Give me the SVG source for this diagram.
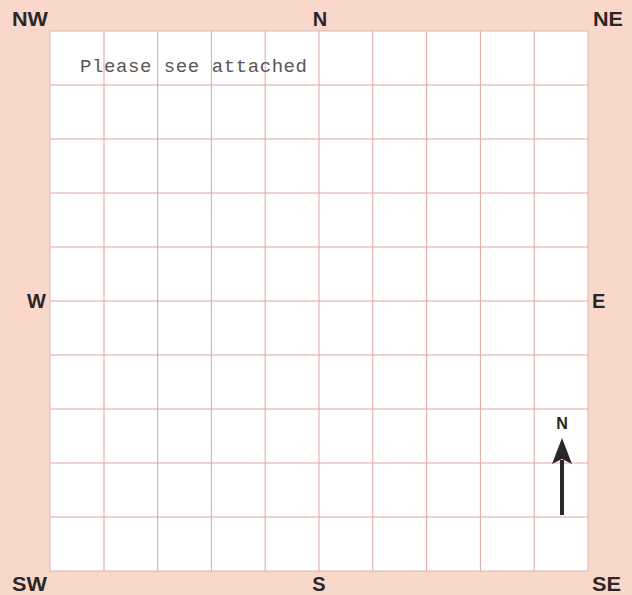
<svg xmlns="http://www.w3.org/2000/svg" width="632" height="595" viewBox="0 0 632 595">
<style>
.lbl{font-family:"Liberation Sans",Arial,sans-serif;font-weight:bold;font-size:20px;fill:#2b2726}
.g{stroke:#e0a6a3;stroke-width:1;fill:none}
</style>
<rect width="632" height="595" fill="#f9d8cb"/>
<g id="grid">
<rect x="50" y="31" width="538" height="540" fill="#ffffff" stroke="#d4b8b4" stroke-width="1"/>
<path class="g" d="M104 31V571M157.6 31V571M211.4 31V571M265.2 31V571M319 31V571M372.8 31V571M426.6 31V571M480.4 31V571M534.2 31V571M50 85H588M50 139H588M50 193H588M50 247H588M50 301H588M50 355H588M50 409H588M50 463H588M50 517H588"/>
</g>
<g id="labels">
<text class="lbl" x="12" y="26" textLength="36" lengthAdjust="spacingAndGlyphs">NW</text>
<text class="lbl" x="320" y="26" text-anchor="middle">N</text>
<text class="lbl" x="593" y="26" textLength="30" lengthAdjust="spacingAndGlyphs">NE</text>
<text class="lbl" x="27" y="308">W</text>
<text class="lbl" x="592" y="308">E</text>
<text class="lbl" x="12" y="591" textLength="35" lengthAdjust="spacingAndGlyphs">SW</text>
<text class="lbl" x="319" y="591" text-anchor="middle">S</text>
<text class="lbl" x="592" y="591" textLength="29" lengthAdjust="spacingAndGlyphs">SE</text>
</g>
<g id="note">
<text x="80" y="72" font-family="'Liberation Mono','Courier New',monospace" font-size="19" fill="#5a5656" textLength="227" lengthAdjust="spacing">Please see attached</text>
</g>
<g id="north-arrow">
<text x="562" y="429" text-anchor="middle" font-family="'Liberation Sans',Arial,sans-serif" font-weight="bold" font-size="16" fill="#2b2726">N</text>
<line x1="562" y1="460" x2="562" y2="515" stroke="#2b2726" stroke-width="4"/>
<polygon points="562,438 572,464 562,459 552,464" fill="#2b2726"/>
</g>
</svg>
